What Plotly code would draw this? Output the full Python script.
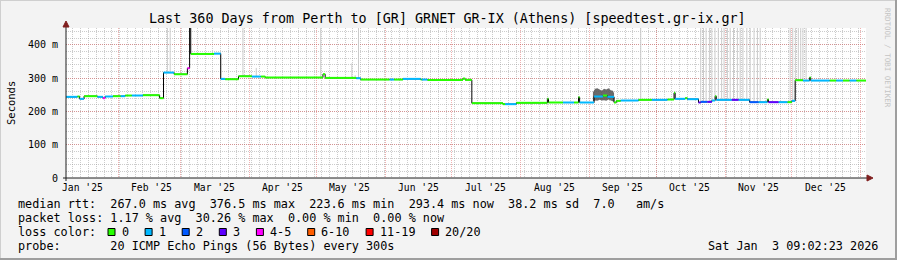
import plotly.graph_objects as go

# ---------------- data ----------------
range_start = "2025-01-08 09:02:23"
range_end = "2026-01-03 09:02:23"

# median rtt as step segments: start time, value (ms), loss bucket index
seg_start = [
    "2025-01-08 09:02", "2025-01-13 12:00", "2025-01-14 12:00", "2025-01-16 12:00",
    "2025-01-22 12:00", "2025-01-25 00:00", "2025-01-26 00:00", "2025-01-29 12:00",
    "2025-02-02 00:00", "2025-02-04 00:00", "2025-02-07 00:00", "2025-02-12 00:00",
    "2025-02-19 12:00", "2025-02-21 06:00", "2025-02-26 00:00", "2025-03-04 00:00",
    "2025-03-05 00:00", "2025-03-05 12:00", "2025-03-16 00:00", "2025-03-19 00:00",
    "2025-03-21 00:00", "2025-03-27 00:00", "2025-04-02 00:00", "2025-04-06 00:00",
    "2025-04-08 00:00", "2025-05-04 00:00", "2025-05-05 00:00", "2025-05-19 00:00",
    "2025-05-21 00:00", "2025-06-03 00:00", "2025-06-05 00:00", "2025-06-09 00:00",
    "2025-06-17 00:00", "2025-06-17 12:00", "2025-06-20 00:00", "2025-07-06 00:00",
    "2025-07-07 00:00", "2025-07-10 00:00", "2025-07-24 00:00", "2025-07-25 00:00",
    "2025-07-30 00:00", "2025-08-13 00:00", "2025-08-13 12:00", "2025-08-20 00:00",
    "2025-08-25 00:00", "2025-08-27 00:00", "2025-08-27 12:00", "2025-09-03 00:00",
    "2025-09-07 00:00", "2025-09-09 00:00", "2025-09-12 00:00", "2025-09-13 00:00",
    "2025-09-15 00:00", "2025-09-23 00:00", "2025-09-29 00:00", "2025-10-06 00:00",
    "2025-10-09 00:00", "2025-10-09 12:00", "2025-10-14 00:00", "2025-10-15 00:00",
    "2025-10-20 00:00", "2025-10-21 00:00", "2025-10-24 00:00", "2025-10-26 00:00",
    "2025-10-27 12:00", "2025-10-28 00:00", "2025-11-04 00:00", "2025-11-07 00:00",
    "2025-11-12 00:00", "2025-11-16 00:00", "2025-11-20 00:00", "2025-11-20 12:00",
    "2025-11-25 00:00", "2025-11-29 00:00", "2025-12-01 00:00", "2025-12-02 12:00",
    "2025-12-06 00:00", "2025-12-09 00:00", "2025-12-09 12:00", "2025-12-18 00:00",
    "2025-12-21 00:00", "2025-12-24 00:00", "2025-12-27 00:00", "2025-12-30 00:00",
]
seg_value = [
    244, 245, 238, 246, 244, 240, 245, 246, 246, 248, 248, 249,
    240, 317, 312, 330, 460, 373, 374, 298, 297, 306, 305, 305,
    302, 312, 301, 300, 296, 296, 296, 298, 296, 296, 295, 299,
    295, 225, 222, 222, 226, 238, 227, 227, 227, 243, 227, 245,
    248, 244, 227, 232, 233, 235, 235, 236, 256, 238, 240, 237,
    227, 229, 229, 233, 246, 235, 235, 235, 228, 228, 236, 228,
    228, 228, 232, 294, 293, 302, 293, 293, 293, 293, 293, 293,
]
seg_loss = [
    1, 0, 1, 0, 1, 4, 1, 0, 1, 0, 1, 0,
    0, 1, 0, 4, 0, 0, 1, 1, 0, 0, 1, 0,
    0, 0, 0, 1, 0, 1, 0, 1, 0, 1, 0, 0,
    0, 0, 0, 1, 0, 0, 0, 1, 0, 0, 1, 1,
    0, 1, 0, 0, 1, 0, 1, 0, 0, 1, 0, 1,
    3, 2, 3, 1, 0, 1, 3, 1, 2, 1, 0, 3,
    1, 0, 1, 0, 1, 0, 1, 0, 1, 0, 1, 0,
]

# smoke band (ping spread) during early September
smoke_dates = ["2025-09-02 12:00", "2025-09-03 12:00", "2025-09-04 12:00", "2025-09-05 12:00",
               "2025-09-06 12:00", "2025-09-07 12:00", "2025-09-08 12:00", "2025-09-09 12:00",
               "2025-09-10 12:00", "2025-09-11 12:00", "2025-09-12 00:00"]
smoke_lo = [231, 233, 232, 235, 233, 234, 232, 236, 233, 231, 229]
smoke_hi = [258, 268, 270, 265, 262, 268, 266, 270, 264, 262, 255]

# single high pings (light smoke reaching the top)
spike_dates = [
    "2025-02-23", "2025-02-24 06:00", "2025-03-29", "2025-04-04", "2025-05-03",
    "2025-05-17", "2025-05-18 12:00", "2025-05-20", "2025-09-24",
    "2025-10-21", "2025-10-22 06:00", "2025-10-23 10:00", "2025-10-24 22:00",
    "2025-10-26", "2025-10-27 10:00", "2025-10-28 22:00", "2025-10-30 10:00",
    "2025-10-31 12:00", "2025-11-02", "2025-11-03 06:00", "2025-11-04 18:00",
    "2025-11-06 12:00", "2025-11-07 18:00", "2025-11-09", "2025-11-10 18:00",
    "2025-11-12 06:00", "2025-11-14", "2025-11-15 12:00", "2025-11-16 18:00",
    "2025-11-30 06:00", "2025-12-01 10:00", "2025-12-02 14:00", "2025-12-03 22:00",
    "2025-12-05", "2025-12-06", "2025-12-07 10:00",
]
spike_lo = [
    317, 317, 306, 305, 302, 301, 300, 300, 235,
    229, 229, 229, 229, 233, 240, 235, 235,
    235, 235, 235, 235, 235, 235, 235, 235,
    230, 228, 228, 228, 228, 230, 232, 294,
    294, 293, 293,
]
spike_hi = [
    460, 460, 460, 331, 460, 345, 309, 460, 460,
    460, 460, 460, 460, 460, 460, 460, 460,
    460, 460, 460, 460, 460, 460, 460, 460,
    460, 460, 460, 460, 460, 460, 460, 460,
    460, 460, 460,
]

loss_labels = ["0", "1", "2", "3", "4-5", "6-10", "11-19", "20/20"]
loss_colors = ["#26ff00", "#00b8ff", "#0059ff", "#5e00ff", "#ff00ff", "#ff5e00", "#ff0000", "#a00000"]

y_ticks = [0, 100, 200, 300, 400]
y_tick_text = ["0", "100 m", "200 m", "300 m", "400 m"]
month_starts = ["2025-02-01", "2025-03-01", "2025-04-01", "2025-05-01", "2025-06-01", "2025-07-01",
                "2025-08-01", "2025-09-01", "2025-10-01", "2025-11-01", "2025-12-01", "2026-01-01"]
month_labels = ["Jan '25", "Feb '25", "Mar '25", "Apr '25", "May '25", "Jun '25",
                "Jul '25", "Aug '25", "Sep '25", "Oct '25", "Nov '25", "Dec '25"]
month_label_pos = ["2025-01-16", "2025-02-16", "2025-03-16", "2025-04-16", "2025-05-16", "2025-06-16",
                   "2025-07-16", "2025-08-16", "2025-09-16", "2025-10-16", "2025-11-16", "2025-12-16"]

title = "Last 360 Days from Perth to [GR] GRNET GR-IX (Athens) [speedtest.gr-ix.gr]"
legend_lines = [
    "median rtt:  267.0 ms avg  376.5 ms max  223.6 ms min  293.4 ms now  38.2 ms sd  7.0   am/s",
    "packet loss: 1.17 % avg  30.26 % max  0.00 % min  0.00 % now",
    "loss color:",
    "probe:       20 ICMP Echo Pings (56 Bytes) every 300s",
]
stamp = "Sat Jan  3 09:02:23 2026"

# ---------------- layout geometry ----------------
W, H = 897, 260
PL, PR, PT, PB = 66, 866, 28, 178
YMAX = 451
MONO = "DejaVu Sans Mono"
GRID = "rgba(143,143,143,0.45)"
MGRID = "rgba(222,79,79,0.45)"


def px(x):
    return (x - PL) / (PR - PL)


def py(y):
    return (PB - y) / (PB - PT)


def nb(s):
    return s.replace(" ", "\u00a0")


fig = go.Figure()

# light smoke spikes
sx, sy = [], []
for d, lo, hi in zip(spike_dates, spike_lo, spike_hi):
    sx += [d, d, None]
    sy += [lo, hi, None]
fig.add_trace(go.Scatter(x=sx, y=sy, mode="lines", line=dict(color="#cbcbcb", width=1),
                         hoverinfo="skip", showlegend=False))

# smoke band
fig.add_trace(go.Scatter(x=smoke_dates + smoke_dates[::-1], y=smoke_hi + smoke_lo[::-1],
                         fill="toself", fillcolor="rgba(80,80,80,0.85)", line=dict(width=0),
                         mode="lines", hoverinfo="skip", showlegend=False))

# black median line (step)
fig.add_trace(go.Scatter(x=seg_start + [range_end], y=seg_value + [seg_value[-1]], mode="lines",
                         line=dict(color="#000000", width=1, shape="hv"),
                         hoverinfo="skip", showlegend=False))

# coloured median segments by loss
ends = seg_start[1:] + [range_end]
for k, col in enumerate(loss_colors):
    xs, ys = [], []
    for s, e, v, l in zip(seg_start, ends, seg_value, seg_loss):
        if l == k:
            xs += [s, e, None]
            ys += [v, v, None]
    if xs:
        fig.add_trace(go.Scatter(x=xs, y=ys, mode="lines", line=dict(color=col, width=2),
                                 hoverinfo="skip", showlegend=False))

shapes = []
# image frame (shade A top/left, shade B bottom/right)
shapes.append(dict(type="line", xref="paper", yref="paper", x0=px(0), x1=px(W), y0=py(0.5), y1=py(0.5),
                   line=dict(color="#cfcfcf", width=1)))
shapes.append(dict(type="line", xref="paper", yref="paper", x0=px(0.5), x1=px(0.5), y0=py(0), y1=py(H),
                   line=dict(color="#cfcfcf", width=1)))
shapes.append(dict(type="line", xref="paper", yref="paper", x0=px(0), x1=px(W), y0=py(H - 1), y1=py(H - 1),
                   line=dict(color="#9e9e9e", width=2)))
shapes.append(dict(type="line", xref="paper", yref="paper", x0=px(W - 1), x1=px(W - 1), y0=py(0), y1=py(H),
                   line=dict(color="#9e9e9e", width=2)))
# axes
shapes.append(dict(type="line", xref="paper", yref="paper", x0=px(63), x1=px(868), y0=0, y1=0,
                   line=dict(color="#1f1f1f", width=1)))
shapes.append(dict(type="line", xref="paper", yref="paper", x0=0, x1=0, y0=py(181), y1=py(24),
                   line=dict(color="#1f1f1f", width=1)))
shapes.append(dict(type="path", xref="paper", yref="paper",
                   path=f"M {px(867)} {py(175)} L {px(873)} {py(178)} L {px(867)} {py(181)} Z",
                   fillcolor="#801f1f", line=dict(color="#801f1f", width=1)))
shapes.append(dict(type="path", xref="paper", yref="paper",
                   path=f"M {px(63)} {py(27)} L {px(66)} {py(21)} L {px(69)} {py(27)} Z",
                   fillcolor="#801f1f", line=dict(color="#801f1f", width=1)))

annotations = []
annotations.append(dict(text=nb(title), x=px(447), y=py(19), xref="paper", yref="paper",
                        showarrow=False, xanchor="center", yanchor="middle",
                        font=dict(family=MONO, size=13.4, color="#000")))
annotations.append(dict(text="Seconds", x=px(11), y=py(103), xref="paper", yref="paper",
                        showarrow=False, textangle=-90, xanchor="center", yanchor="middle",
                        font=dict(family=MONO, size=10.5, color="#000")))
annotations.append(dict(text=nb("RRDTOOL / TOBI OETIKER"), x=px(887), y=py(58), xref="paper", yref="paper",
                        showarrow=False, textangle=90, xanchor="center", yanchor="middle",
                        font=dict(family=MONO, size=7.5, color="#c4c4c4")))
for v, t in zip(y_ticks, y_tick_text):
    annotations.append(dict(text=nb(t), x=px(60), y=v, xref="paper", yref="y", showarrow=False,
                            xanchor="right", yanchor="middle", font=dict(family=MONO, size=10, color="#000")))
for d, t in zip(month_label_pos, month_labels):
    annotations.append(dict(text=nb(t), x=d, y=py(187), xref="x", yref="paper", showarrow=False,
                            xanchor="center", yanchor="middle", font=dict(family=MONO, size=9.7, color="#000")))
for i, line in enumerate(legend_lines):
    annotations.append(dict(text=nb(line), x=px(16), y=py(204 + 14 * i), xref="paper", yref="paper",
                            showarrow=False, xanchor="left", yanchor="middle",
                            font=dict(family=MONO, size=11.8, color="#000")))
annotations.append(dict(text=nb(stamp), x=px(880), y=py(246), xref="paper", yref="paper", showarrow=False,
                        xanchor="right", yanchor="middle", font=dict(family=MONO, size=11.8, color="#000")))

# loss colour legend swatches
CW = 7.1
xpos = 108
for lab, col in zip(loss_labels, loss_colors):
    shapes.append(dict(type="rect", xref="paper", yref="paper", x0=px(xpos), x1=px(xpos + 7),
                       y0=py(235.5), y1=py(228.5), fillcolor=col, line=dict(color="#000", width=1)))
    annotations.append(dict(text=nb(lab), x=px(xpos + 11.5), y=py(232), xref="paper", yref="paper",
                            showarrow=False, xanchor="left", yanchor="middle",
                            font=dict(family=MONO, size=11.8, color="#000")))
    xpos = xpos + 11.5 + len(lab) * CW + 18.5

fig.update_layout(
    width=W, height=H,
    margin=dict(l=PL, r=W - PR, t=PT, b=H - PB, pad=0),
    paper_bgcolor="#f3f3f3", plot_bgcolor="#ffffff",
    showlegend=False,
    shapes=shapes, annotations=annotations,
    xaxis=dict(range=[range_start, range_end], type="date", showline=False, zeroline=False,
               tickmode="array", tickvals=month_starts, showticklabels=False, ticks="",
               showgrid=True, gridcolor=MGRID, griddash="1px,1px", gridwidth=1,
               minor=dict(showgrid=True, tick0="2025-01-01", dtick=3.5 * 86400000,
                          gridcolor=GRID, griddash="1px,1px", gridwidth=1),
               layer="below traces", fixedrange=True),
    yaxis=dict(range=[0, YMAX], showline=False, zeroline=False, tickmode="array", tickvals=y_ticks,
               showticklabels=False, ticks="",
               showgrid=True, gridcolor=MGRID, griddash="1px,1px", gridwidth=1,
               minor=dict(showgrid=True, dtick=20, tick0=0,
                          gridcolor=GRID, griddash="1px,1px", gridwidth=1),
               layer="below traces", fixedrange=True),
)

fig.write_html("out.html")
